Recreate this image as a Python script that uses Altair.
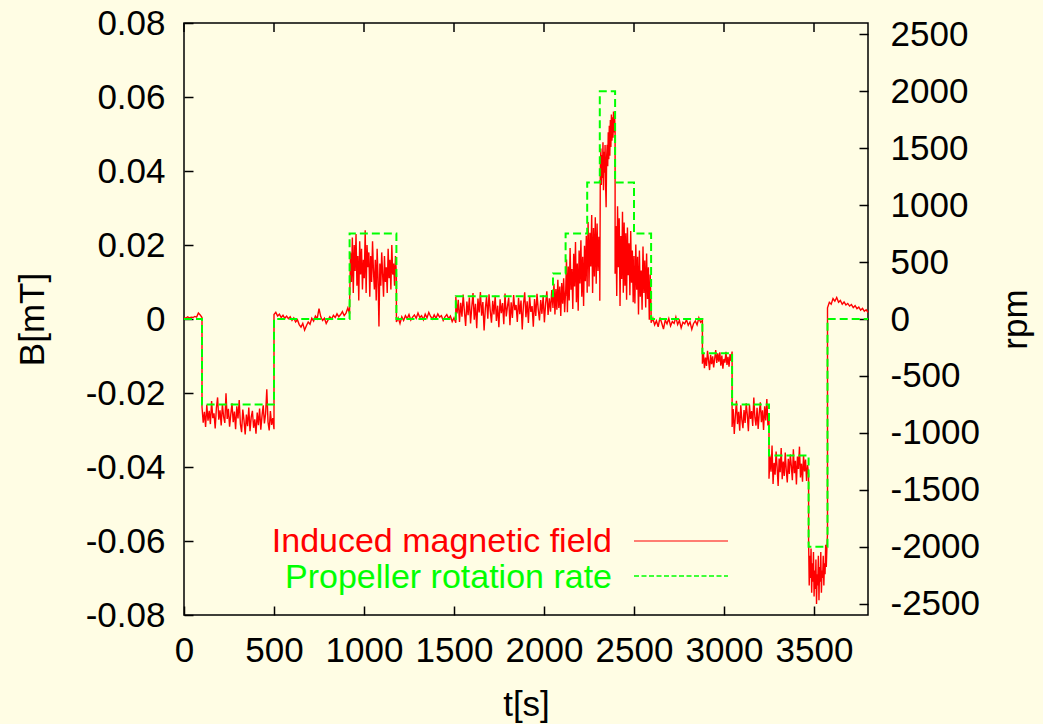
import numpy as np
import pandas as pd
import altair as alt

# Propeller programme: interval boundaries (s) and the rate held in each interval (rpm)
step_times = [0, 100, 500, 920, 1180, 1510, 2050, 2120, 2240, 2310, 2395,
              2500, 2595, 2880, 3045, 3250, 3470, 3575, 3800]
rpm_levels = [0, -750, 0, 750, 0, 200, 400, 750, 1200, 2000, 1200, 750,
              0, -300, -750, -1200, -2000, 0]

# Induced field readings (mT), evenly spaced inside each interval above
b_rest_0 = [0.0004, 0.0002, 0.0006, 0.0003, 0.0005, 0.0004, 0.0007, 0.0005, 0.0016, 0.0011, 0.0004]
b_neg_750_a = [-0.0238, -0.0280, -0.0251, -0.0292, -0.0232, -0.0275, -0.0248, -0.0284, -0.0222, -0.0268,
               -0.0255, -0.0296, -0.0240, -0.0212, -0.0272, -0.0247, -0.0288, -0.0230, -0.0264, -0.0281,
               -0.0201, -0.0270, -0.0243, -0.0291, -0.0257, -0.0228, -0.0279, -0.0250, -0.0298, -0.0236,
               -0.0269, -0.0219, -0.0284, -0.0306, -0.0245, -0.0274, -0.0312, -0.0258, -0.0290, -0.0239,
               -0.0303, -0.0266, -0.0248, -0.0294, -0.0271, -0.0310, -0.0253, -0.0287, -0.0242, -0.0299,
               -0.0262, -0.0233, -0.0282, -0.0256, -0.0190, -0.0278, -0.0301, -0.0249, -0.0286, -0.0268, -0.0298]
b_rest_1 = [0.0012, 0.0018, 0.0008, 0.0013, 0.0004, 0.0010, 0.0002, 0.0008, 0.0001, 0.0006,
            -0.0004, 0.0003, -0.0008, -0.0002, -0.0015, -0.0022, -0.0012, -0.0030, -0.0018, -0.0008,
            -0.0014, 0.0002, -0.0006, 0.0008, 0.0001, 0.0028, 0.0006, -0.0004, 0.0002, -0.0012,
            -0.0003, 0.0006, 0.0000, 0.0010, 0.0004, 0.0014, 0.0006, 0.0012, 0.0020, 0.0009, 0.0016, 0.0030, 0.0014]
b_pos_750_a = [0.004, 0.018, 0.010, 0.022, 0.007, 0.020, 0.013, 0.023, 0.009, 0.017, 0.005, 0.021, 0.012,
               0.019, 0.008, 0.016, 0.011, 0.024, 0.007, 0.020, 0.014, 0.018, 0.006, 0.017, 0.010, 0.021,
               0.013, 0.008, 0.016, 0.005, 0.019, 0.011, -0.002, 0.015, 0.009, 0.018, 0.012, 0.006, 0.017,
               0.010, 0.014, 0.007, 0.019, 0.011, 0.016, 0.008, 0.020, 0.012, 0.015, 0.009, 0.017, 0.012]
b_rest_2 = [-0.0008, 0.0003, -0.0012, 0.0006, -0.0004, 0.0009, 0.0001, 0.0012, -0.0003, 0.0005,
            0.0011, 0.0002, 0.0016, 0.0004, 0.0009, -0.0002, 0.0013, 0.0003, 0.0018, 0.0007,
            0.0000, 0.0011, 0.0002, 0.0014, 0.0005, 0.0009, -0.0004, 0.0006, 0.0012, 0.0001,
            0.0008, -0.0007, 0.0003, -0.0010]
b_pos_200 = [0.0061, 0.0015, 0.0052, -0.0008, 0.0044, 0.0006, 0.0066, 0.0021, -0.0019, 0.0047,
             0.0010, 0.0058, -0.0012, 0.0033, 0.0070, -0.0002, 0.0041, -0.0025, 0.0055, 0.0018,
             0.0073, 0.0009, 0.0046, -0.0031, 0.0028, 0.0060, 0.0001, 0.0067, 0.0022, -0.0010,
             0.0049, 0.0012, 0.0063, -0.0005, 0.0036, -0.0022, 0.0053, 0.0016, 0.0043, -0.0014,
             0.0069, 0.0007, 0.0034, 0.0058, -0.0017, 0.0045, 0.0003, 0.0065, 0.0024, 0.0038,
             -0.0008, 0.0057, 0.0013, 0.0050, -0.0028, 0.0040, 0.0072, 0.0005, 0.0048, -0.0011,
             0.0062, 0.0019, 0.0035, -0.0021, 0.0054, 0.0008, 0.0068, 0.0026, -0.0004, 0.0051,
             0.0014, 0.0064, -0.0009, 0.0042, 0.0075, 0.0011, 0.0056, 0.0020, 0.0078, 0.0030]
b_pos_400 = [0.0038, 0.0095, 0.0012, 0.0081, 0.0025, 0.0106, 0.0030, 0.0088, 0.0008, 0.0097,
             0.0041, 0.0110, 0.0018, 0.0075]
b_pos_750_b = [0.0062, 0.0161, 0.0018, 0.0142, 0.0050, 0.0192, 0.0079, 0.0135, 0.0027, 0.0176,
               0.0088, 0.0208, 0.0045, 0.0150, 0.0022, 0.0185, 0.0096, 0.0213, 0.0060, 0.0168,
               0.0035, 0.0198, 0.0102, 0.0225, 0.0071]
b_pos_1200_a = [0.0121, 0.0262, 0.0088, 0.0233, 0.0142, 0.0281, 0.0070, 0.0246, 0.0115, 0.0275,
                0.0095, 0.0258, 0.0130, 0.0222, 0.0110]
b_pos_2000 = [0.0049, 0.0402, 0.0461, 0.0362, 0.0443, 0.0381, 0.0478, 0.0348, 0.0452, 0.0395,
              0.0470, 0.0360, 0.0302, 0.0440, 0.0471, 0.0413, 0.0505, 0.0432, 0.0522, 0.0441,
              0.0538, 0.0465, 0.0553, 0.0482, 0.0545, 0.0490, 0.0561, 0.0504, 0.0550, 0.0515]
b_pos_1200_b = [0.0122, 0.0251, 0.0062, 0.0305, 0.0140, 0.0272, 0.0035, 0.0224, 0.0108, 0.0290,
                0.0071, 0.0261, 0.0090, 0.0232, 0.0052, 0.0247, 0.0118, 0.0205, 0.0064, 0.0238,
                0.0098, 0.0185, 0.0045, 0.0170]
b_pos_750_c = [0.0148, 0.0042, 0.0201, 0.0079, 0.0168, 0.0012, 0.0185, 0.0060, 0.0131, 0.0025,
               0.0196, 0.0070, 0.0158, 0.0031, 0.0177, 0.0054, 0.0140, -0.0002, 0.0120, 0.0031]
b_rest_3 = [-0.0010, 0.0002, -0.0016, -0.0005, -0.0021, 0.0004, -0.0011, -0.0027, -0.0003, -0.0013,
            0.0001, -0.0019, -0.0007, -0.0012, 0.0005, -0.0015, -0.0004, -0.0024, -0.0009, -0.0013,
            -0.0002, -0.0017, -0.0008, -0.0028, -0.0012, -0.0005, -0.0016, 0.0003, -0.0009, -0.0004]
b_neg_300 = [-0.0121, -0.0092, -0.0133, -0.0104, -0.0127, -0.0086, -0.0112, -0.0138, -0.0097, -0.0122,
             -0.0101, -0.0131, -0.0107, -0.0084, -0.0119, -0.0093, -0.0115, -0.0090, -0.0126, -0.0099,
             -0.0134, -0.0108, -0.0118, -0.0089, -0.0124, -0.0102, -0.0129, -0.0095, -0.0113, -0.0088]
b_neg_750_b = [-0.0292, -0.0243, -0.0311, -0.0262, -0.0221, -0.0284, -0.0251, -0.0302, -0.0233, -0.0273,
               -0.0295, -0.0246, -0.0281, -0.0228, -0.0258, -0.0303, -0.0231, -0.0270, -0.0249, -0.0289,
               -0.0212, -0.0266, -0.0288, -0.0240, -0.0297, -0.0255, -0.0225, -0.0279, -0.0247, -0.0300,
               -0.0236, -0.0274, -0.0216, -0.0288, -0.0262]
b_neg_1200 = [-0.0432, -0.0371, -0.0413, -0.0342, -0.0446, -0.0389, -0.0421, -0.0358, -0.0402, -0.0451,
              -0.0377, -0.0414, -0.0349, -0.0433, -0.0385, -0.0424, -0.0361, -0.0409, -0.0442, -0.0378,
              -0.0419, -0.0366, -0.0398, -0.0436, -0.0352, -0.0417, -0.0383, -0.0447, -0.0372, -0.0405,
              -0.0345, -0.0428, -0.0391, -0.0440, -0.0368, -0.0412, -0.0380, -0.0438, -0.0395, -0.0420]
b_neg_2000 = [-0.060, -0.072, -0.064, -0.070, -0.062, -0.074, -0.066, -0.071, -0.063, -0.075,
              -0.068, -0.073, -0.065, -0.077, -0.069, -0.072, -0.064, -0.076, -0.067, -0.071,
              -0.063, -0.074, -0.068, -0.070, -0.064, -0.072, -0.066, -0.069, -0.061, -0.067,
              -0.062, -0.058]
b_rest_4 = [0.0030, 0.0045, 0.0040, 0.0055, 0.0048, 0.0058, 0.0045, 0.0050, 0.0040, 0.0046, 0.0038, 0.0042,
            0.0035, 0.0039, 0.0031, 0.0036, 0.0028, 0.0032, 0.0024, 0.0029, 0.0021, 0.0025, 0.0018]

b_segments = [b_rest_0, b_neg_750_a, b_rest_1, b_pos_750_a, b_rest_2, b_pos_200, b_pos_400,
              b_pos_750_b, b_pos_1200_a, b_pos_2000, b_pos_1200_b, b_pos_750_c, b_rest_3,
              b_neg_300, b_neg_750_b, b_neg_1200, b_neg_2000, b_rest_4]

# Axis tick values
x_ticks = [0, 500, 1000, 1500, 2000, 2500, 3000, 3500]
b_ticks = [-0.08, -0.06, -0.04, -0.02, 0, 0.02, 0.04, 0.06, 0.08]
rpm_ticks = [-2500, -2000, -1500, -1000, -500, 0, 500, 1000, 1500, 2000, 2500]

# Field samples: place each interval's readings across that interval
t_parts, b_parts = [], []
for i, vals in enumerate(b_segments):
    t_parts.append(np.linspace(step_times[i], step_times[i + 1], len(vals)))
    b_parts.append(np.asarray(vals))
field = pd.DataFrame({"t": np.concatenate(t_parts), "b": np.concatenate(b_parts)})
field["i"] = np.arange(len(field))

rate = pd.DataFrame({"t": step_times, "rpm": rpm_levels + [rpm_levels[-1]]})
ticks_top = pd.DataFrame({"t": x_ticks})

FONT = "Liberation Sans"
FS = 35
KEY_FS = 34
W, H = 684, 592
TICK = 9
NB = "\u00a0"

x_scale = alt.Scale(domain=[0, 3800], nice=False, zero=False)
x_axis = alt.Axis(
    values=x_ticks, tickSize=TICK, offset=-TICK, domain=False, grid=False,
    labelExpr=f"'{NB}' + format(datum.value, 'd')", labelPadding=18,
    labelFlush=False, labelOverlap=False, labelBound=False,
    title="t[s]", titleX=W / 2, titleY=98, titleAlign="center", titleBaseline="middle",
)
b_axis = alt.Axis(
    values=b_ticks, tickSize=TICK, offset=-TICK, domain=False, grid=False, orient="left",
    labelExpr="datum.value == 0 ? '0' : (datum.value < 0 ? '-' : '') + format(abs(datum.value), '.2f')",
    labelPadding=19, labelFlush=False, labelOverlap=False, labelBound=False,
    title="B[mT]", titleAngle=270, titleX=-161, titleY=H / 2, titleAlign="center", titleBaseline="middle",
)
rpm_axis = alt.Axis(
    values=rpm_ticks, tickSize=TICK, offset=-TICK, domain=False, grid=False, orient="right",
    labelExpr=f"(datum.value < 0 ? '-' : '{NB}') + format(abs(datum.value), 'd')",
    labelAlign="left", labelPadding=22, labelFlush=False, labelOverlap=False, labelBound=False,
    title="rpm", titleAngle=270, titleX=156, titleY=H / 2, titleAlign="center", titleBaseline="middle",
)

x_enc = alt.X("t:Q", scale=x_scale, axis=x_axis)

field_line = alt.Chart(field).mark_line(color="#ff0000", strokeWidth=1.4).encode(
    x=x_enc,
    y=alt.Y("b:Q", scale=alt.Scale(domain=[-0.08, 0.08], nice=False, zero=False), axis=b_axis),
    order="i:Q",
)

rate_line = alt.Chart(rate).mark_line(
    color="#00ff00", strokeWidth=2, strokeDash=[8, 4], interpolate="step-after"
).encode(
    x=x_enc,
    y=alt.Y("rpm:Q", scale=alt.Scale(domain=[-2600, 2600], nice=False, zero=False), axis=rpm_axis),
)

# Mirrored x ticks along the top border
top_ticks = alt.Chart(ticks_top).mark_rule(color="black", strokeWidth=1.5).encode(
    x=x_enc, y=alt.value(0), y2=alt.value(TICK)
)

# Key
key_src = pd.DataFrame({"k": [0]})
key_field_text = alt.Chart(key_src).mark_text(
    text="Induced magnetic field", align="right", baseline="alphabetic",
    font=FONT, fontSize=KEY_FS, color="#ff0000",
).encode(x=alt.value(428), y=alt.value(529))
key_rate_text = alt.Chart(key_src).mark_text(
    text="Propeller rotation rate", align="right", baseline="alphabetic",
    font=FONT, fontSize=KEY_FS, color="#00ff00",
).encode(x=alt.value(428), y=alt.value(565))
key_field_line = alt.Chart(key_src).mark_rule(color="#ff0000", strokeWidth=1.2).encode(
    x=alt.value(450), x2=alt.value(544), y=alt.value(518)
)
key_rate_line = alt.Chart(key_src).mark_rule(color="#00ff00", strokeWidth=1.5, strokeDash=[5, 2.5]).encode(
    x=alt.value(450), x2=alt.value(544), y=alt.value(553)
)

chart = alt.layer(
    field_line, rate_line, top_ticks,
    key_field_text, key_rate_text, key_field_line, key_rate_line,
).resolve_scale(y="independent").properties(
    width=W, height=H,
    autosize=alt.AutoSizeParams(type="none"),
    padding={"left": 184, "top": 23, "right": 1043 - 184 - W, "bottom": 724 - 23 - H},
    background="#fffde4",
).configure_view(
    stroke="black", strokeWidth=1.5,
).configure_axis(
    labelFont=FONT, labelFontSize=FS, labelColor="black",
    titleFont=FONT, titleFontSize=FS, titleFontWeight="normal", titleColor="black",
    tickColor="black", tickWidth=1.5,
)

chart.save("out.html", embed_options={"renderer": "svg", "actions": False})
